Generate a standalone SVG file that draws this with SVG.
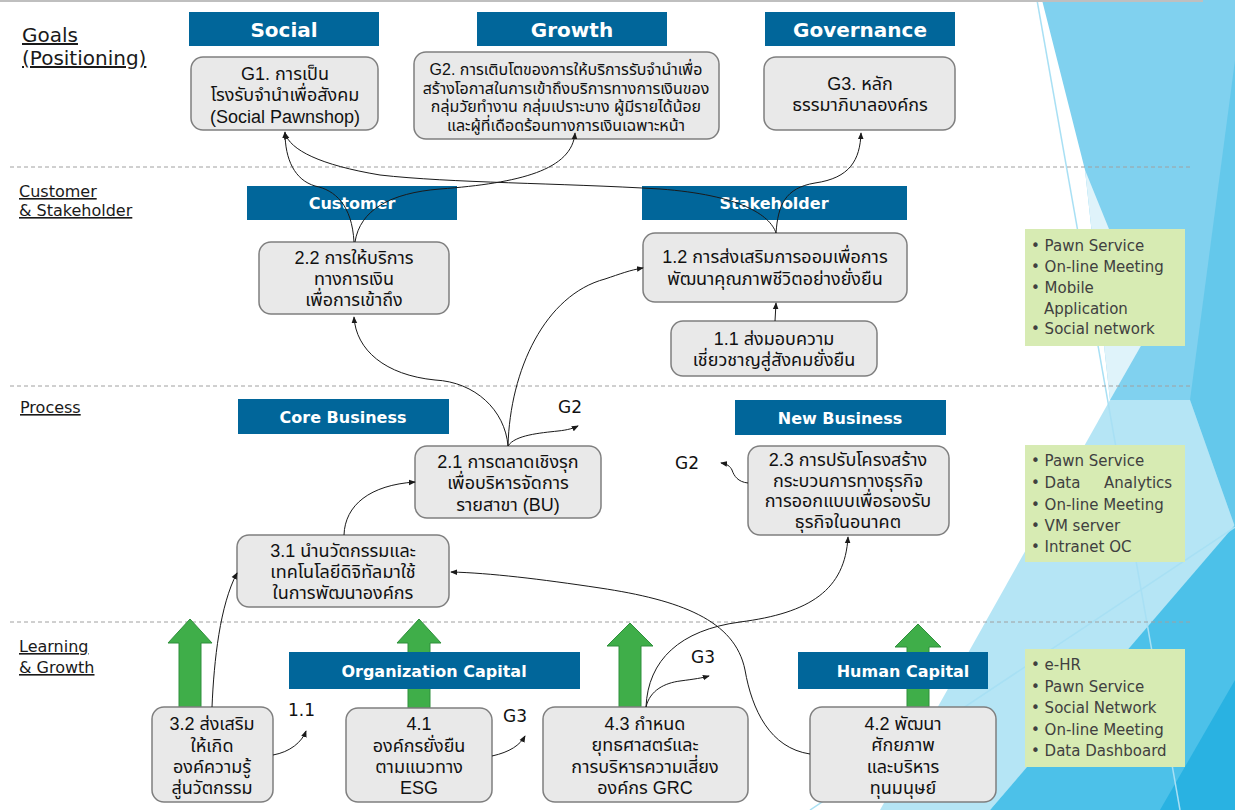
<svg xmlns="http://www.w3.org/2000/svg" width="1235" height="810" viewBox="0 0 1235 810">
<defs>
<marker id="ah" viewBox="0 0 8 8" refX="7" refY="4" markerWidth="7" markerHeight="7" orient="auto" markerUnits="userSpaceOnUse">
<path d="M0,0.8 L8,4 L0,7.2 Z" fill="#1a1a1a"/>
</marker>
<style>
.f{font-family:"DejaVu Sans","Noto Sans Thai","Noto Sans",sans-serif}
.hdr{fill:#01669a}
.ht{font-family:"DejaVu Sans","Noto Sans",sans-serif;font-weight:bold;fill:#ffffff;text-anchor:middle}
.box{fill:#e9e9e9;stroke:#7f7f7f;stroke-width:1.5}
.bt{font-family:"Liberation Sans","Noto Sans Thai",sans-serif;font-size:18px;text-anchor:middle;fill:#111111}
.bs{font-size:16px}
.lbl{font-size:16px;fill:#1a1a1a;text-decoration:underline}
.sep{stroke:#a0a0a0;stroke-width:1;stroke-dasharray:4 3}
.conn{fill:none;stroke:#1a1a1a;stroke-width:1}
.gbox{fill:#d7ebb3}
.gt{font-size:15px;fill:#404040}
.garrow{fill:#3fae49;stroke:#2f8f3c;stroke-width:1}
.tag{font-size:17px;fill:#111111}
</style>
</defs>
<rect x="0" y="0" width="1235" height="810" fill="#ffffff"/>
<g id="background">
<polygon points="1042,0 1235,0 1235,810 1160,810 1110,400 1085,170" fill="#80d1ef"/>
<polygon points="1235,60 1190,400 1235,527" fill="#64c8eb"/>
<polygon points="1085,170 1150,330 1110,400" fill="#dff3fa"/>
<polygon points="1110,400 1190,400 1235,527 990,810 880,810" fill="#b5e5f5"/>
<polygon points="990,810 1235,525 1235,810" fill="#4cc1e9"/>
<polygon points="1160,810 1235,680 1235,810" fill="#29b2e2"/>
<line x1="1037" y1="0" x2="1180" y2="810" stroke="#a8e0f4" stroke-width="1.5"/>
<line x1="810" y1="810" x2="1235" y2="527" stroke="#a8e0f4" stroke-width="1.5"/>
<rect x="0" y="0" width="1203" height="2" fill="#bfbfbf"/>
</g>
<g id="separators">
<line class="sep" x1="10" y1="167" x2="1193" y2="167"/>
<line class="sep" x1="10" y1="386" x2="1193" y2="386"/>
<line class="sep" x1="10" y1="622" x2="1193" y2="622"/>
</g>
<g id="lane-labels" class="f">
<text class="lbl" x="22" y="42" style="font-size:20px">Goals</text>
<text class="lbl" x="22" y="65" style="font-size:20px">(Positioning)</text>
<text class="lbl" x="19" y="197">Customer</text>
<text class="lbl" x="19" y="216">&amp; Stakeholder</text>
<text class="lbl" x="20" y="413">Process</text>
<text class="lbl" x="19" y="652">Learning</text>
<text class="lbl" x="19" y="673">&amp; Growth</text>
</g>
<g id="green-arrows">
<polygon class="garrow" points="190,619 212,643 201,643 201,708 179,708 179,643 168,643"/>
<polygon class="garrow" points="419,619 441,643 430,643 430,708 408,708 408,643 397,643"/>
<polygon class="garrow" points="630,623 653,646 641,646 641,708 619,708 619,646 607,646"/>
<polygon class="garrow" points="918,624 941,647 929,647 929,708 907,708 907,647 895,647"/>
</g>
<g id="headers">
<g id="hdr-social"><rect class="hdr" x="189" y="12" width="190" height="34"/><text class="ht" x="284" y="37" font-size="20">Social</text></g>
<g id="hdr-growth"><rect class="hdr" x="477" y="12" width="190" height="34"/><text class="ht" x="572" y="37" font-size="20">Growth</text></g>
<g id="hdr-governance"><rect class="hdr" x="765" y="12" width="190" height="34"/><text class="ht" x="860" y="37" font-size="20">Governance</text></g>
<g id="hdr-customer"><rect class="hdr" x="247" y="186" width="210" height="34"/><text class="ht" x="352" y="209" font-size="16">Customer</text></g>
<g id="hdr-stakeholder"><rect class="hdr" x="642" y="186" width="265" height="34"/><text class="ht" x="774" y="209" font-size="16">Stakeholder</text></g>
<g id="hdr-core"><rect class="hdr" x="238" y="399" width="211" height="35"/><text class="ht" x="343" y="423" font-size="16">Core Business</text></g>
<g id="hdr-new"><rect class="hdr" x="735" y="400" width="211" height="35"/><text class="ht" x="840" y="424" font-size="16">New Business</text></g>
<g id="hdr-org"><rect class="hdr" x="289" y="652" width="291" height="37"/><text class="ht" x="434" y="677" font-size="16">Organization Capital</text></g>
<g id="hdr-human"><rect class="hdr" x="798" y="652" width="190" height="37"/><text class="ht" x="903" y="677" font-size="16">Human Capital</text></g>
</g>
<g id="node-G1"><rect class="box" x="191" y="57" width="187" height="73" rx="12"/>
<text class="bt" x="285" y="80">G1. การเป็น</text><text class="bt" x="285" y="101">โรงรับจำนำเพื่อสังคม</text><text class="bt" x="285" y="123">(Social Pawnshop)</text></g>
<g id="node-G2"><rect class="box" x="414" y="52" width="305" height="87" rx="12"/>
<text class="bt bs" x="566" y="75">G2. การเติบโตของการให้บริการรับจำนำเพื่อ</text>
<text class="bt bs" x="566" y="94">สร้างโอกาสในการเข้าถึงบริการทางการเงินของ</text>
<text class="bt bs" x="566" y="112">กลุ่มวัยทำงาน กลุ่มเปราะบาง ผู้มีรายได้น้อย</text>
<text class="bt bs" x="566" y="131">และผู้ที่เดือดร้อนทางการเงินเฉพาะหน้า</text></g>
<g id="node-G3"><rect class="box" x="764" y="57" width="191" height="73" rx="12"/>
<text class="bt" x="860" y="90">G3. หลัก</text><text class="bt" x="860" y="111">ธรรมาภิบาลองค์กร</text></g>
<g id="node-2-2"><rect class="box" x="259" y="242" width="190" height="72" rx="12"/>
<text class="bt" x="354" y="264">2.2 การให้บริการ</text><text class="bt" x="354" y="285">ทางการเงิน</text><text class="bt" x="354" y="306">เพื่อการเข้าถึง</text></g>
<g id="node-1-2"><rect class="box" x="643" y="233" width="264" height="69" rx="12"/>
<text class="bt" x="775" y="263">1.2 การส่งเสริมการออมเพื่อการ</text><text class="bt" x="775" y="285">พัฒนาคุณภาพชีวิตอย่างยั่งยืน</text></g>
<g id="node-1-1"><rect class="box" x="671" y="321" width="206" height="55" rx="12"/>
<text class="bt" x="774" y="345">1.1 ส่งมอบความ</text><text class="bt" x="774" y="366">เชี่ยวชาญสู่สังคมยั่งยืน</text></g>
<g id="node-2-1"><rect class="box" x="415" y="446" width="186" height="72" rx="12"/>
<text class="bt" x="508" y="468">2.1 การตลาดเชิงรุก</text><text class="bt" x="508" y="489">เพื่อบริหารจัดการ</text><text class="bt" x="508" y="511">รายสาขา (BU)</text></g>
<g id="node-2-3"><rect class="box" x="748" y="446" width="201" height="89" rx="12"/>
<text class="bt" x="848" y="466">2.3 การปรับโครงสร้าง</text><text class="bt" x="848" y="487">กระบวนการทางธุรกิจ</text><text class="bt" x="848" y="507">การออกแบบเพื่อรองรับ</text><text class="bt" x="848" y="528">ธุรกิจในอนาคต</text></g>
<g id="node-3-1"><rect class="box" x="237" y="535" width="212" height="72" rx="12"/>
<text class="bt" x="343" y="557">3.1 นำนวัตกรรมและ</text><text class="bt" x="343" y="578">เทคโนโลยีดิจิทัลมาใช้</text><text class="bt" x="343" y="599">ในการพัฒนาองค์กร</text></g>
<g id="node-3-2"><rect class="box" x="152" y="707" width="121" height="95" rx="12"/>
<text class="bt" x="212" y="730">3.2 ส่งเสริม</text><text class="bt" x="212" y="752">ให้เกิด</text><text class="bt" x="212" y="773">องค์ความรู้</text><text class="bt" x="212" y="794">สู่นวัตกรรม</text></g>
<g id="node-4-1"><rect class="box" x="346" y="708" width="146" height="94" rx="12"/>
<text class="bt" x="419" y="730">4.1</text><text class="bt" x="419" y="752">องค์กรยั่งยืน</text><text class="bt" x="419" y="773">ตามแนวทาง</text><text class="bt" x="419" y="794">ESG</text></g>
<g id="node-4-3"><rect class="box" x="543" y="707" width="205" height="95" rx="12"/>
<text class="bt" x="645" y="730">4.3 กำหนด</text><text class="bt" x="645" y="751">ยุทธศาสตร์และ</text><text class="bt" x="645" y="773">การบริหารความเสี่ยง</text><text class="bt" x="645" y="794">องค์กร GRC</text></g>
<g id="node-4-2"><rect class="box" x="810" y="707" width="186" height="95" rx="12"/>
<text class="bt" x="903" y="730">4.2 พัฒนา</text><text class="bt" x="903" y="751">ศักยภาพ</text><text class="bt" x="903" y="773">และบริหาร</text><text class="bt" x="903" y="794">ทุนมนุษย์</text></g>
<g id="tech-1" class="f"><rect class="gbox" x="1025" y="229" width="160" height="117"/>
<text class="gt" x="1031" y="251">• Pawn Service</text><text class="gt" x="1031" y="272">• On-line Meeting</text><text class="gt" x="1031" y="293">• Mobile</text><text class="gt" x="1044" y="314">Application</text><text class="gt" x="1031" y="334">• Social network</text></g>
<g id="tech-2" class="f"><rect class="gbox" x="1025" y="445" width="160" height="117"/>
<text class="gt" x="1031" y="466">• Pawn Service</text><text class="gt" x="1031" y="488">• Data<tspan x="1104">Analytics</tspan></text><text class="gt" x="1031" y="510">• On-line Meeting</text><text class="gt" x="1031" y="531">• VM server</text><text class="gt" x="1031" y="552">• Intranet OC</text></g>
<g id="tech-3" class="f"><rect class="gbox" x="1025" y="649" width="160" height="118"/>
<text class="gt" x="1031" y="670">• e-HR</text><text class="gt" x="1031" y="692">• Pawn Service</text><text class="gt" x="1031" y="713">• Social Network</text><text class="gt" x="1031" y="735">• On-line Meeting</text><text class="gt" x="1031" y="756">• Data Dashboard</text></g>
<g id="tags" class="f">
<text class="tag" x="558" y="413">G2</text>
<text class="tag" x="675" y="469">G2</text>
<text class="tag" x="691" y="663">G3</text>
<text class="tag" x="503" y="722">G3</text>
<text class="tag" x="288" y="716">1.1</text>
</g>
<g id="connectors">
<path class="conn" marker-end="url(#ah)" d="M354,242 C352,205 335,190 315,186 C295,180 285,160 285,132"/>
<path class="conn" marker-end="url(#ah)" d="M355,242 C360,210 390,193 440,189 C520,183 572,170 575,133"/>
<path class="conn" marker-end="url(#ah)" d="M776,233 C770,215 740,195 660,189 C560,183 450,183 380,175 C320,165 290,150 285,133"/>
<path class="conn" marker-end="url(#ah)" d="M776,233 C778,205 785,188 815,183 C850,178 860,160 861,133"/>
<path class="conn" marker-end="url(#ah)" d="M508,446 C505,410 475,382 435,380 C385,375 356,350 354,317"/>
<path class="conn" marker-end="url(#ah)" d="M508,446 C510,370 545,295 605,279 C620,274 630,270 643,268"/>
<path class="conn" marker-end="url(#ah)" d="M508,446 C515,435 540,433 558,431 C568,430 574,428 578,426"/>
<path class="conn" marker-end="url(#ah)" d="M344,535 C345,505 370,485 415,482"/>
<path class="conn" marker-end="url(#ah)" d="M212,707 C214,660 220,605 237,573"/>
<path class="conn" marker-end="url(#ah)" d="M273,755 C290,752 302,742 306,731"/>
<path class="conn" marker-end="url(#ah)" d="M492,756 C510,752 520,745 525,736"/>
<path class="conn" marker-end="url(#ah)" d="M646,707 C650,690 665,683 680,681 C695,679 702,678 709,676"/>
<path class="conn" marker-end="url(#ah)" d="M646,707 C648,660 680,630 740,622 C810,613 845,590 848,537"/>
<path class="conn" marker-end="url(#ah)" d="M810,754 C770,748 752,710 745,670 C735,620 680,600 600,588 C540,579 490,573 451,572"/>
<path class="conn" marker-end="url(#ah)" d="M748,483 C738,482 734,476 732,470 C730,466 727,464 721,463"/>
<path class="conn" marker-end="url(#ah)" d="M775,321 L776,303"/>
</g>
</svg>
